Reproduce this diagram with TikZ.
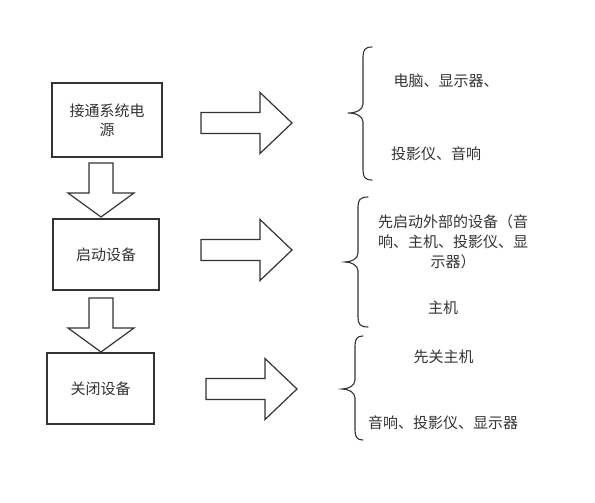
\documentclass[tikz,border=0pt]{standalone}
\usepackage{fontspec}
\setmainfont{Noto Sans CJK SC}
\usetikzlibrary{positioning}
\definecolor{inkgray}{HTML}{333333}
\tikzset
{
	stepbox/.style = {rectangle, draw=inkgray, line width=1.2pt, align=center, inner sep=0pt, text=inkgray, font=\fontsize{15}{19}\selectfont},
	blockarrow/.style = {draw=inkgray, line width=1.2pt, line join=miter},
	bracket/.style = {draw=inkgray, line width=1.1pt, line cap=round},
	note/.style = {align=center, inner sep=0pt, text=inkgray, font=\fontsize{15}{20}\selectfont}
}

\begin{document}
\begin{tikzpicture}[x=1pt, y=-1pt]
\useasboundingbox (0,0) rectangle (595,503);

% steps
\node[stepbox, minimum width=110pt, minimum height=74pt] (power) at (107,120) {接通系统电\\源};
\node[stepbox, minimum width=106pt, minimum height=71pt] (start) at (106,254.5) {启动设备};
\node[stepbox, minimum width=107pt, minimum height=71pt] (shut) at (100.5,388.5) {关闭设备};

% down arrows
\foreach \top in {163, 298}
  \draw[blockarrow] (89,\top) -- (113,\top) -- (113,\top+30) -- (134,\top+30)
    -- (101,\top+54) -- (68,\top+30) -- (89,\top+30) -- cycle;

% right arrows
\foreach \ax/\ay in {201/123, 201/250, 206/389}
  \draw[blockarrow] (\ax,\ay-10.5) -- (\ax+59,\ay-10.5) -- (\ax+59,\ay-30.5) -- (\ax+91,\ay)
    -- (\ax+59,\ay+30.5) -- (\ax+59,\ay+10.5) -- (\ax,\ay+10.5) -- cycle;

% braces
\foreach \bx/\btop/\bmid/\bbot/\tip/\arm in {363/47/113/180/15/9, 358/197/262/327/13/10, 355/336/389/440/13/8}
  \draw[bracket] (\bx+\arm,\btop) .. controls (\bx+2,\btop) and (\bx,\btop+3) .. (\bx,\btop+10)
    -- (\bx,\bmid-9) .. controls (\bx,\bmid-3) and (\bx-7,\bmid) .. (\bx-\tip,\bmid)
    .. controls (\bx-7,\bmid) and (\bx,\bmid+3) .. (\bx,\bmid+9)
    -- (\bx,\bbot-10) .. controls (\bx,\bbot-3) and (\bx+2,\bbot) .. (\bx+\arm,\bbot);

% notes
\node[note] (pc) at (446,81) {电脑、显示器、};
\node[note] (proj) at (436,154) {投影仪、音响};
\node[note] (outer) at (453,242) {先启动外部的设备（音\\响、主机、投影仪、显\\示器）};
\node[note] (host) at (443,308) {主机};
\node[note] (hostoff) at (443.5,357) {先关主机};
\node[note] (rest) at (443,423) {音响、投影仪、显示器};
\end{tikzpicture}
\end{document}
